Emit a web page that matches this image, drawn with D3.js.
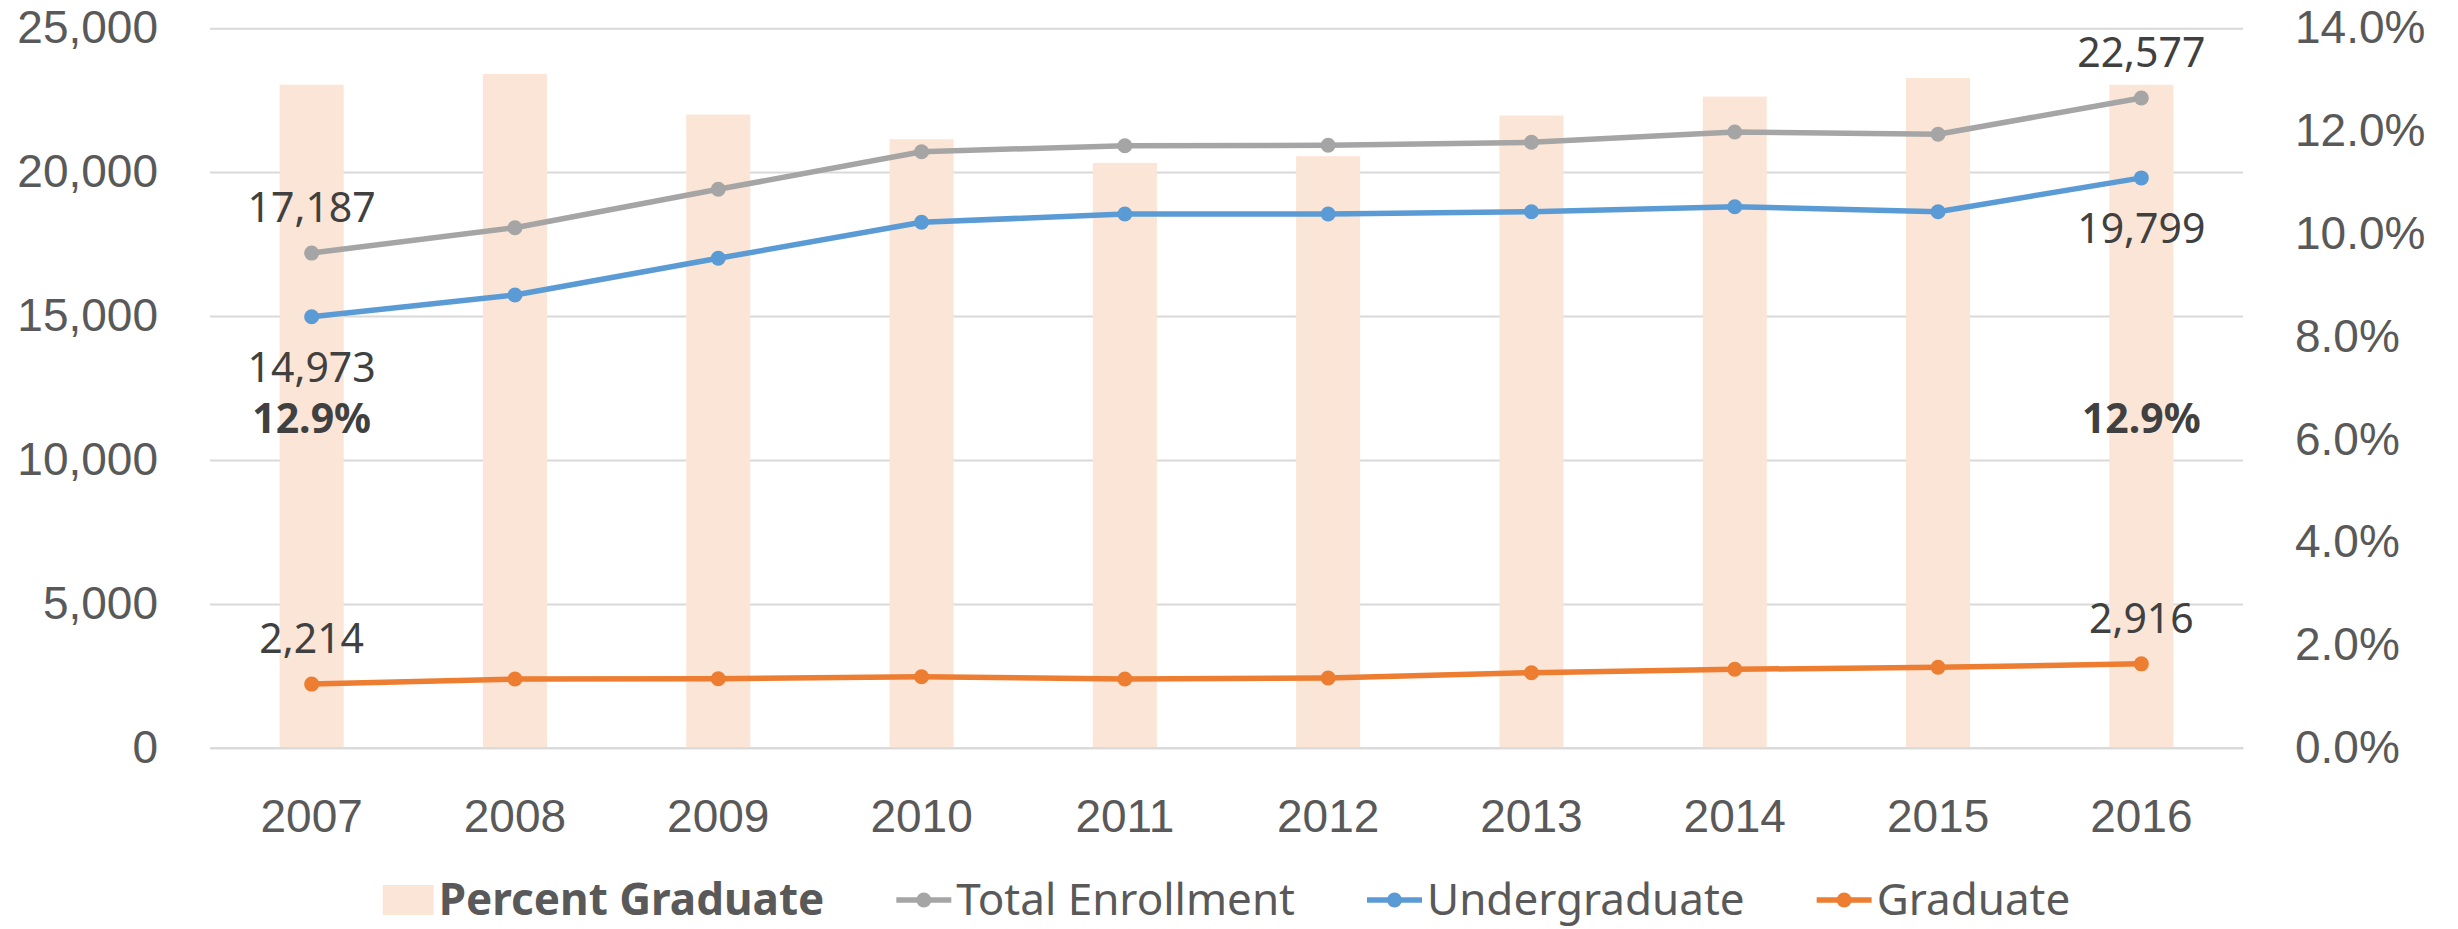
<!DOCTYPE html>
<html>
<head>
<meta charset="utf-8">
<script src="https://cdn.jsdelivr.net/npm/d3@7"></script>
<style>
  html, body { margin: 0; padding: 0; background: #fff; }
  svg { display: block; font-family: "Noto Sans", "Open Sans", sans-serif; }
</style>
</head>
<body>
<svg id="chart"></svg>
<script>
// data
const years = [2007, 2008, 2009, 2010, 2011, 2012, 2013, 2014, 2015, 2016];
const totalEnrollment = [17187, 18069, 19403, 20709, 20918, 20932, 21036, 21394, 21314, 22577];
const undergraduate = [14973, 15731, 17006, 18256, 18545, 18545, 18625, 18799, 18625, 19799];
const graduate = [2214, 2390, 2401, 2470, 2390, 2425, 2609, 2727, 2797, 2916];
const percentGraduate = [0.129, 0.1311, 0.1232, 0.1184, 0.1138, 0.1151, 0.1230, 0.1267, 0.1303, 0.129];
const leftTicks = [0, 5000, 10000, 15000, 20000, 25000];
const rightTicks = [0, 0.02, 0.04, 0.06, 0.08, 0.10, 0.12, 0.14];
const labelledYears = [2007, 2016];

const width = 2458;
const height = 929;
const margin = { top: 28.2, right: 215, bottom: 181.2, left: 210 };

const svg = d3.select("#chart")
    .attr("width", width)
    .attr("height", height);

const x = d3.scaleBand()
    .domain(years)
    .range([margin.left, width - margin.right])
    .padding(0);

const yLeft = d3.scaleLinear()
    .domain([0, 25000])
    .range([height - margin.bottom, margin.top]);

const yRight = d3.scaleLinear()
    .domain([0, 0.14])
    .range([height - margin.bottom, margin.top]);

const tickColor = "#595959";
const labelColor = "#404040";
const fmt = d3.format(",");
const pct = d3.format(".1%");

// 网格线
svg.append("g")
    .attr("class", "grid")
    .attr("transform", `translate(${margin.left},0)`)
    .call(d3.axisLeft(yLeft).tickValues(leftTicks).tickSize(-(width - margin.left - margin.right)).tickFormat(""))
    .call(g => g.select(".domain").remove())
    .call(g => g.selectAll("line").attr("stroke", "#d9d9d9").attr("stroke-width", 2));

// 柱子 (Percent Graduate)
const barW = x.bandwidth() * 0.315;
const barData = years.map((yr, i) => ({ year: yr, value: percentGraduate[i] }));
svg.append("g")
    .selectAll("rect")
    .data(barData)
    .enter()
    .append("rect")
    .attr("x", d => x(d.year) + x.bandwidth() / 2 - barW / 2)
    .attr("y", d => yRight(d.value))
    .attr("width", barW)
    .attr("height", d => yRight(0) - yRight(d.value))
    .attr("fill", "#fbe5d6");

// 左轴
svg.append("g")
    .attr("transform", `translate(${margin.left},0)`)
    .call(d3.axisLeft(yLeft).tickValues(leftTicks).tickSize(0).tickPadding(52).tickFormat(fmt))
    .call(g => g.select(".domain").remove())
    .call(g => g.selectAll("text").attr("font-size", 46).attr("fill", tickColor).attr("font-family", null));

// 右轴
svg.append("g")
    .attr("transform", `translate(${width - margin.right},0)`)
    .call(d3.axisRight(yRight).tickValues(rightTicks).tickSize(0).tickPadding(52).tickFormat(pct))
    .call(g => g.select(".domain").remove())
    .call(g => g.selectAll("text").attr("font-size", 46).attr("fill", tickColor).attr("font-family", null));

// x 轴
svg.append("g")
    .attr("transform", `translate(0,${height - margin.bottom})`)
    .call(d3.axisBottom(x).tickSize(0).tickPadding(51.5).tickFormat(d3.format("d")))
    .call(g => g.select(".domain").attr("stroke", "#d9d9d9").attr("stroke-width", 2))
    .call(g => g.selectAll("text").attr("font-size", 46).attr("fill", tickColor).attr("font-family", null));

// 折线
const series = [
    { name: "Total Enrollment", values: totalEnrollment, color: "#a5a5a5", labelPos: "above" },
    { name: "Undergraduate", values: undergraduate, color: "#5b9bd5", labelPos: "below" },
    { name: "Graduate", values: graduate, color: "#ed7d31", labelPos: "above" }
];

const cx = d => x(d.year) + x.bandwidth() / 2;

series.forEach(s => {
    const pts = years.map((yr, i) => ({ year: yr, value: s.values[i] }));
    const line = d3.line()
        .x(cx)
        .y(d => yLeft(d.value));

    svg.append("path")
        .datum(pts)
        .attr("fill", "none")
        .attr("stroke", s.color)
        .attr("stroke-width", 5.5)
        .attr("stroke-linejoin", "round")
        .attr("d", line);

    svg.append("g")
        .selectAll("circle")
        .data(pts)
        .enter()
        .append("circle")
        .attr("cx", cx)
        .attr("cy", d => yLeft(d.value))
        .attr("r", 7.5)
        .attr("fill", s.color);

    svg.append("g")
        .selectAll("text")
        .data(pts.filter(d => labelledYears.includes(d.year)))
        .enter()
        .append("text")
        .attr("x", cx)
        .attr("y", d => yLeft(d.value) + (s.labelPos === "above" ? -31 : 65))
        .attr("text-anchor", "middle")
        .attr("font-size", 41)
        .attr("fill", labelColor)
        .text(d => fmt(d.value));
});

// 柱子标签
svg.append("g")
    .selectAll("text")
    .data(barData.filter(d => labelledYears.includes(d.year)))
    .enter()
    .append("text")
    .attr("x", cx)
    .attr("y", d => (yRight(d.value) + yRight(0)) / 2 + 17)
    .attr("text-anchor", "middle")
    .attr("font-size", 41)
    .attr("font-weight", "bold")
    .attr("fill", labelColor)
    .text(d => pct(d.value));

// 图例
const legendItems = [
    { name: "Percent Graduate", type: "bar", color: "#fbe5d6", bold: true },
    { name: "Total Enrollment", type: "line", color: "#a5a5a5" },
    { name: "Undergraduate", type: "line", color: "#5b9bd5" },
    { name: "Graduate", type: "line", color: "#ed7d31" }
];

const legend = svg.append("g").attr("class", "legend");
const legendY = 900;
let lx = 0;
legendItems.forEach((item, i) => {
    const g = legend.append("g").attr("transform", `translate(${lx},0)`);
    let symW;
    if (item.type === "bar") {
        g.append("rect")
            .attr("x", 0)
            .attr("y", legendY - 15)
            .attr("width", 51)
            .attr("height", 30)
            .attr("fill", item.color);
        symW = 51;
    } else {
        g.append("line")
            .attr("x1", 0).attr("x2", 55)
            .attr("y1", legendY).attr("y2", legendY)
            .attr("stroke", item.color)
            .attr("stroke-width", 5.5);
        g.append("circle")
            .attr("cx", 27.5).attr("cy", legendY)
            .attr("r", 7.5)
            .attr("fill", item.color);
        symW = 55;
    }
    const t = g.append("text")
        .attr("x", symW + 5)
        .attr("y", legendY + 15)
        .attr("font-size", 44)
        .attr("font-weight", item.bold ? "bold" : null)
        .attr("fill", tickColor)
        .text(item.name);
    lx += symW + 5 + t.node().getComputedTextLength() + 72;
});
const lw = lx - 72;
const plotMid = (margin.left + width - margin.right) / 2;
legend.attr("transform", `translate(${plotMid - lw / 2},0)`);
</script>
</body>
</html>
